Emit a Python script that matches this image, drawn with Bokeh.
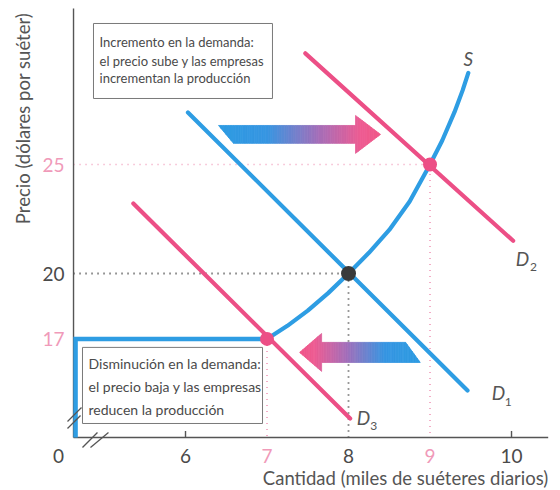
import numpy as np
from math import pi
from bokeh.plotting import figure
from bokeh.models import Range1d, ColumnDataSource
from bokeh.core.properties import value
from bokeh.embed import file_html
from bokeh.resources import INLINE

# --- data -------------------------------------------------------------
# supply curve S (thousands of sweaters per day, dollars per sweater)
s_qty = [7.0, 7.25, 7.5, 7.75, 8.0, 8.25, 8.5, 8.75, 9.0, 9.15, 9.3, 9.4, 9.47]
s_price = [17.0, 17.6, 18.3, 19.1, 20.0, 20.95, 22.0, 23.3, 25.0, 26.1, 27.4, 28.4, 29.2]

# demand curves
d1_qty = [6.03, 9.46]
d1_price = [27.39, 14.63]
d2_qty = [7.47, 10.02]
d2_price = [30.1, 21.5]
d3_qty = [5.36, 8.02]
d3_price = [23.21, 13.35]

# equilibria: original (D1), demand increase (D2), demand decrease (D3)
eq_qty = [8, 9, 7]
eq_price = [20, 25, 17]

x_ticks = [6, 7, 8, 9, 10]
x_tick_labels = ["6", "7", "8", "9", "10"]
y_ticks = [17, 20, 25]
y_tick_labels = ["17", "20", "25"]

# --- styles -----------------------------------------------------------
BLUE = "#2e9de3"
PINK = "#ec4f86"
PINK_LIGHT = "#f09ab9"
INK = "#4a4a4a"
AXIS = "#555555"
FONT = value("Lato")

X_AXIS_AT = 12.477   # price level where the quantity axis is drawn
Y_AXIS_AT = 4.626    # quantity level where the price axis is drawn

p = figure(width=560, height=490,
           x_range=Range1d(3.730, 10.601), y_range=Range1d(10.046, 32.523),
           x_axis_type=None, y_axis_type=None,
           output_backend="svg", toolbar_location=None,
           min_border=0, outline_line_color=None,
           background_fill_color="white", border_fill_color="white")

# guide lines from each equilibrium to the axes
p.line([Y_AXIS_AT, eq_qty[0], eq_qty[0]], [eq_price[0], eq_price[0], X_AXIS_AT],
       line_color="#333333", line_width=1.8, line_dash="1 5")
p.line([Y_AXIS_AT, eq_qty[1], eq_qty[1]], [eq_price[1], eq_price[1], X_AXIS_AT],
       line_color=PINK_LIGHT, line_width=1.6, line_dash="1 5")
p.line([eq_qty[2], eq_qty[2]], [eq_price[2], X_AXIS_AT],
       line_color=PINK_LIGHT, line_width=1.6, line_dash="1 5")

# axes
p.segment(x0=[Y_AXIS_AT, Y_AXIS_AT], y0=[X_AXIS_AT, X_AXIS_AT],
          x1=[Y_AXIS_AT, 10.45], y1=[32.16, X_AXIS_AT],
          line_color=AXIS, line_width=1.4)
p.segment(x0=[6, 10], y0=[X_AXIS_AT, X_AXIS_AT], x1=[6, 10], y1=[X_AXIS_AT + 0.3] * 2,
          line_color=AXIS, line_width=1.4)

# highlighted price/quantity frame of the lower equilibrium
p.line([Y_AXIS_AT + 0.025, Y_AXIS_AT + 0.025, eq_qty[2]],
       [X_AXIS_AT, eq_price[2], eq_price[2]],
       line_color=BLUE, line_width=4.5, line_join="miter")

# axis break marks
p.segment(x0=[4.736, 4.834, 4.552, 4.552], y0=[12.018, 12.018, 12.89, 13.21],
          x1=[4.920, 5.055, 4.712, 4.724], y1=[12.706, 12.706, 13.49, 13.85],
          line_color=AXIS, line_width=1.3)

# curves
p.line(s_qty, s_price, line_color=BLUE, line_width=4.2, line_cap="round")
p.line(d1_qty, d1_price, line_color=BLUE, line_width=4.2, line_cap="round")
p.line(d2_qty, d2_price, line_color=PINK, line_width=4.2, line_cap="round")
p.line(d3_qty, d3_price, line_color=PINK, line_width=4.2, line_cap="round")

# equilibrium points
p.scatter(eq_qty, eq_price, size=[15, 14, 14],
          fill_color=["#3a3a3a", PINK, PINK], line_color=None)


# gradient arrows (drawn as thin colour strips)
STOPS = [(0.0, (45, 155, 226)), (0.3, (55, 150, 226)), (0.62, (165, 110, 185)),
         (0.88, (238, 92, 146)), (1.0, (240, 86, 136))]


def grad(f):
    f = min(max(f, 0.0), 1.0)
    for (f0, c0), (f1, c1) in zip(STOPS[:-1], STOPS[1:]):
        if f <= f1:
            t = (f - f0) / (f1 - f0) if f1 > f0 else 0.0
            r, g, b = (int(round(a + (b_ - a) * t)) for a, b_ in zip(c0, c1))
            return "#%02x%02x%02x" % (r, g, b)
    return "#%02x%02x%02x" % STOPS[-1][1]


def arrow_strips(s_first, s_second, s_base, s_tip, yc, hb, hh, first, sign, n=70):
    xs, ys, cols = [], [], []
    total = s_tip - s_first

    def edges_at(s, kind):
        if kind == "slant":
            f = (s - s_first) / (s_second - s_first)
            if first == "top":
                return yc + hb, yc + hb - 2 * hb * f
            return yc - hb + 2 * hb * f, yc - hb
        if kind == "body":
            return yc + hb, yc - hb
        f = (s_tip - s) / (s_tip - s_base)
        return yc + hh * f, yc - hh * f

    for a, b, kind in [(s_first, s_second, "slant"), (s_second, s_base, "body"),
                       (s_base, s_tip, "head")]:
        m = max(3, int(round(n * (b - a) / total)))
        grid = np.linspace(a, b, m + 1)
        for s0, s1 in zip(grid[:-1], grid[1:]):
            t0, b0 = edges_at(s0, kind)
            t1, b1 = edges_at(s1, kind)
            xs.append([sign * s0, sign * s1, sign * s1, sign * s0])
            ys.append([t0, t1, b1, b0])
            cols.append(grad(((s0 + s1) / 2 - s_first) / total))
    return xs, ys, cols


for spec in [dict(s_first=6.405, s_second=6.589, s_base=8.086, s_tip=8.393,
                  yc=26.38, hb=0.41, hh=0.87, first="top", sign=1),
             dict(s_first=-8.88, s_second=-8.70, s_base=-7.67, s_tip=-7.40,
                  yc=16.38, hb=0.46, hh=0.87, first="bottom", sign=-1)]:
    xs, ys, cols = arrow_strips(**spec)
    src = ColumnDataSource(dict(xs=xs, ys=ys, c=cols))
    p.patches("xs", "ys", source=src, fill_color="c", line_color="c", line_width=0.8)

# annotation boxes
p.quad(left=[4.871, 4.736], right=[7.067, 6.945], top=[31.468, 16.61], bottom=[28.028, 13.12],
       fill_color="white", line_color="#7a7a7a", line_width=1)

box_top = ["Incremento en la demanda:", "el precio sube y las empresas",
           "incrementan la producción"]
box_bottom = ["Disminución en la demanda:", "el precio baja y las empresas",
              "reducen la producción"]
p.text(x=[4.945] * 3, y=[30.60, 29.77, 28.95], text=box_top,
       text_font=FONT, text_font_size="13px", text_color=INK,
       text_align="left", text_baseline="middle")
p.text(x=[4.810] * 3, y=[15.87, 14.82, 13.76], text=box_bottom,
       text_font=FONT, text_font_size="14px", text_color=INK,
       text_align="left", text_baseline="middle")

# tick labels (prices/quantities of the new equilibria in pink)
x_tick_colors = [PINK_LIGHT if t in (eq_qty[1], eq_qty[2]) else INK for t in x_ticks]
y_tick_colors = [PINK_LIGHT if t in (eq_price[1], eq_price[2]) else INK for t in y_ticks]
p.text(x=x_ticks, y=[11.65] * len(x_ticks), text=x_tick_labels,
       text_font=FONT, text_font_size="19px", text_color=x_tick_colors,
       text_align="center", text_baseline="middle")
p.text(x=[4.442], y=[11.65], text=["0"],
       text_font=FONT, text_font_size="19px", text_color=INK,
       text_align="center", text_baseline="middle")
p.text(x=[4.515] * len(y_ticks), y=y_ticks, text=y_tick_labels,
       text_font=FONT, text_font_size="19px", text_color=y_tick_colors,
       text_align="right", text_baseline="middle")

# axis titles
p.text(x=[4.0], y=[27.11], text=["Precio (dólares por suéter)"], angle=pi / 2,
       text_font=FONT, text_font_size="18.5px", text_color="#555555",
       text_align="center", text_baseline="middle")
p.text(x=[8.70], y=[10.60], text=["Cantidad (miles de suéteres diarios)"],
       text_font=FONT, text_font_size="18.5px", text_color="#555555",
       text_align="center", text_baseline="middle")

# curve labels
p.text(x=[9.47], y=[29.86], text=["S"], text_font=FONT, text_font_style="italic",
       text_font_size="19px", text_color="#555555",
       text_align="center", text_baseline="middle")
p.text(x=[10.135, 9.84, 8.185], y=[20.69, 14.52, 13.40], text=["D", "D", "D"],
       text_font=FONT, text_font_style="italic", text_font_size="19px",
       text_color="#555555", text_align="center", text_baseline="middle")
p.text(x=[10.27, 9.96, 8.31], y=[20.3, 14.12, 13.0], text=["2", "1", "3"],
       text_font=FONT, text_font_size="12px", text_color="#555555",
       text_align="center", text_baseline="middle")

open("out.html", "w").write(file_html(p, INLINE))
